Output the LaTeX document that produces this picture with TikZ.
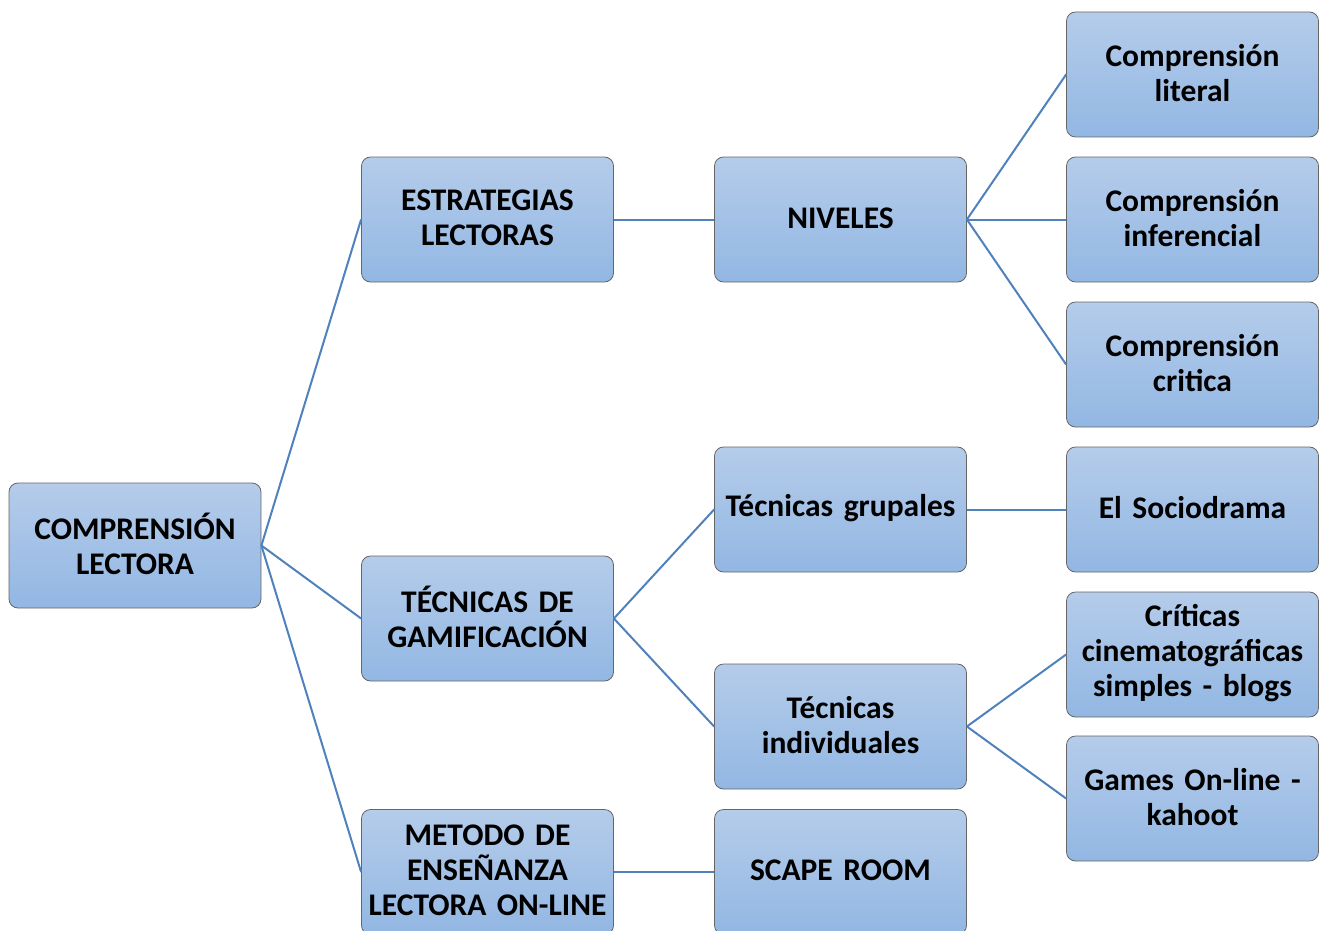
\documentclass[tikz,border=0pt]{standalone}
\usepackage{fontspec}
\setmainfont{Carlito}
\newcommand\myboxtail{\par\vspace{3pt}}
\begin{document}
\begin{tikzpicture}[x=1pt,y=-1pt,
  box/.style={rectangle, rounded corners=9pt, draw=black!60, line width=0.8pt,
    top color=boxtop, bottom color=boxbot, minimum width=252pt, minimum height=125pt,
    inner sep=1pt, align=center, text width=250pt,
    execute at end node=\myboxtail,
    font=\fontsize{31.5}{35}\selectfont\bfseries},
  link/.style={draw=linkblue, line width=2pt}]
\definecolor{boxtop}{RGB}{181,204,234}
\definecolor{boxbot}{RGB}{146,183,227}
\definecolor{linkblue}{RGB}{79,129,189}
\useasboundingbox (0,0) rectangle (1319,931);
\clip (0,0) rectangle (1319,931);
\node[box] (cl) at (135,545.5) {COMPRENSIÓN\\LECTORA};
\node[box] (est) at (487.5,219.5) {ESTRATEGIAS\\LECTORAS};
\node[box] (gam) at (487.5,618.5) {TÉCNICAS DE\\GAMIFICACIÓN};
\node[box] (met) at (487.5,872) {METODO DE\\ENSEÑANZA\\LECTORA ON-LINE};
\node[box] (niv) at (840.5,219.5) {NIVELES};
\node[box] (gru) at (840.5,509.5) {Técnicas grupales};
\node[box] (ind) at (840.5,726.5) {Técnicas\\individuales};
\node[box] (sca) at (840.5,872) {SCAPE ROOM};
\node[box] (lit) at (1192.5,74.5) {Comprensión\\literal};
\node[box] (inf) at (1192.5,219.5) {Comprensión\\inferencial};
\node[box] (cri) at (1192.5,364.5) {Comprensión\\critica};
\node[box] (soc) at (1192.5,509.5) {El Sociodrama};
\node[box] (cin) at (1192.5,654.5) {Críticas\\cinematográficas\\simples - blogs};
\node[box] (gam2) at (1192.5,798.5) {Games On-line -\\kahoot};
\path[link] (cl.east) -- (est.west);
\path[link] (cl.east) -- (gam.west);
\path[link] (cl.east) -- (met.west);
\path[link] (est.east) -- (niv.west);
\path[link] (niv.east) -- (lit.west);
\path[link] (niv.east) -- (inf.west);
\path[link] (niv.east) -- (cri.west);
\path[link] (gam.east) -- (gru.west);
\path[link] (gam.east) -- (ind.west);
\path[link] (gru.east) -- (soc.west);
\path[link] (ind.east) -- (cin.west);
\path[link] (ind.east) -- (gam2.west);
\path[link] (met.east) -- (sca.west);
\end{tikzpicture}
\end{document}
